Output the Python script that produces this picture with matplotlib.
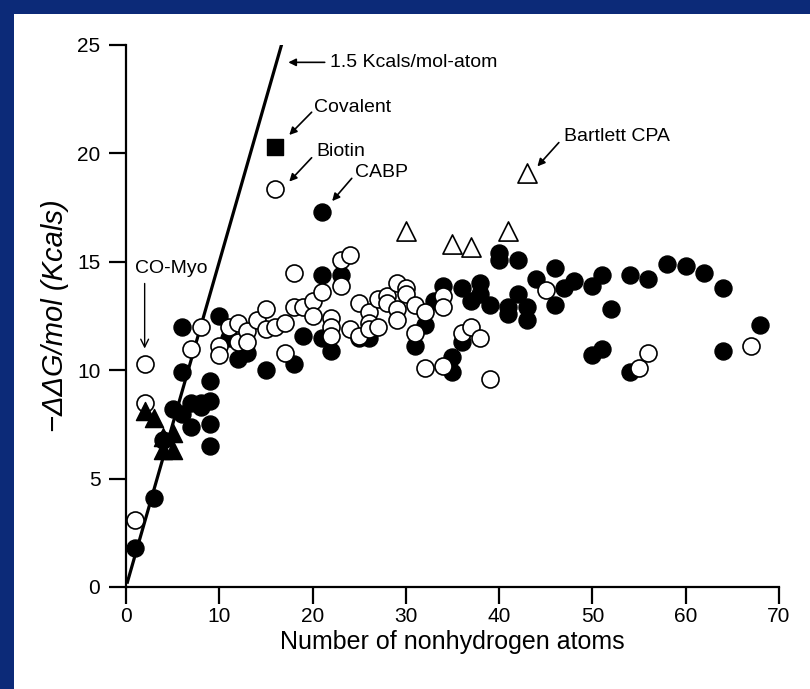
import matplotlib
matplotlib.use("Agg")
import matplotlib.pyplot as plt
from matplotlib.patches import Rectangle

plt.rcParams['font.family'] = ['Liberation Sans', 'DejaVu Sans']

# filled circles
solid_x = [1, 3, 4, 5, 6, 7, 8, 8, 9, 7, 9, 9, 6, 6, 9, 10, 11, 12, 13, 15,
           18, 19, 21, 21, 22, 23, 25, 26, 31, 32, 33, 34, 35, 35, 36, 36, 37,
           38, 38, 39, 40, 40, 41, 41, 42, 42, 43, 43, 44, 46, 46, 47, 48, 50,
           50, 51, 51, 52, 54, 54, 56, 58, 60, 62, 64, 64, 68]
solid_y = [1.8, 4.1, 6.8, 8.2, 8.0, 8.5, 8.5, 8.3, 8.6, 7.4, 7.5, 6.5, 9.9, 12.0, 9.5, 12.5, 11.5, 10.5, 10.8, 10.0,
           10.3, 11.6, 14.4, 11.5, 10.9, 14.4, 11.5, 11.5, 11.1, 12.1, 13.2, 13.9, 10.6, 9.9, 13.8, 11.3, 13.2,
           14.0, 13.5, 13.0, 15.4, 15.1, 12.9, 12.6, 15.1, 13.5, 12.9, 12.3, 14.2, 14.7, 13.0, 13.8, 14.1, 13.9,
           10.7, 14.4, 11.0, 12.8, 14.4, 9.9, 14.2, 14.9, 14.8, 14.5, 13.8, 10.9, 12.1]

# open circles
open_x = [1, 2, 2, 7, 8, 10, 10, 11, 12, 12, 13, 13, 14, 15, 15, 16, 17, 17, 18, 18,
          19, 20, 20, 21, 22, 22, 22, 23, 23, 24, 24, 25, 25, 26, 26, 26, 27, 27, 28, 28,
          29, 29, 29, 30, 30, 31, 31, 32, 32, 34, 34, 34, 36, 37, 38, 39, 45, 55, 56, 67]
open_y = [3.1, 10.3, 8.5, 11.0, 12.0, 11.1, 10.7, 12.0, 12.2, 11.3, 11.8, 11.3, 12.3, 12.8, 11.9, 12.0, 12.2, 10.8, 14.5, 12.9,
          12.9, 13.2, 12.5, 13.6, 12.4, 12.0, 11.6, 15.1, 13.9, 15.3, 11.9, 13.1, 11.6, 12.7, 12.2, 11.9, 13.3, 12.0, 13.4, 13.1,
          14.0, 12.8, 12.3, 13.8, 13.5, 13.0, 11.7, 12.7, 10.1, 13.4, 12.9, 10.2, 11.7, 12.0, 11.5, 9.6, 13.7, 10.1, 10.8, 11.1]

# filled triangles
tri_x = [2, 3, 4, 4, 5, 5]
tri_y = [8.1, 7.8, 6.3, 6.9, 6.3, 7.1]

# open triangles
otri_x = [30, 35, 37, 41, 43]
otri_y = [16.4, 15.8, 15.7, 16.4, 19.1]

# filled squares
sq_x = [16]
sq_y = [20.3]

# single named ligands
biotin = (16, 18.35)
cabp = (21, 17.3)

slope = 1.5
line_x = [0.15, 16.7]

fig = plt.figure(figsize=(8.1, 6.89), dpi=100, facecolor='#0c2a78')
fig.patches.append(Rectangle((14 / 810, 0), 1, 1 - 14 / 689, transform=fig.transFigure,
                             facecolor='white', edgecolor='none', zorder=-10))
ax = fig.add_axes([126 / 810, 102 / 689, 653 / 810, 542 / 689])
ax.set_facecolor('none')

ax.plot(line_x, [slope * v for v in line_x], color='black', lw=2.3, zorder=2)

ax.scatter(solid_x + [cabp[0]], solid_y + [cabp[1]], s=150, c='black', edgecolors='black',
           linewidths=1, zorder=3, clip_on=False)
ax.scatter(open_x + [biotin[0]], open_y + [biotin[1]], s=150, c='white', edgecolors='black',
           linewidths=1.2, zorder=4, clip_on=False)
ax.scatter(tri_x, tri_y, s=170, marker='^', c='black', edgecolors='black', zorder=5)
ax.scatter(otri_x, otri_y, s=190, marker='^', c='white', edgecolors='black',
           linewidths=1.2, zorder=4)
ax.scatter(sq_x, sq_y, s=120, marker='s', c='black', zorder=4)

arrow = dict(arrowstyle='-|>', color='black', lw=1.2, mutation_scale=11, shrinkA=0, shrinkB=0)
fs = 14
ax.annotate('', xy=(17.4, 24.2), xytext=(21.3, 24.2), arrowprops=arrow)
ax.text(21.9, 24.2, '1.5 Kcals/mol-atom', fontsize=fs, va='center', ha='left')
ax.annotate('', xy=(17.5, 20.85), xytext=(19.9, 21.9), arrowprops=arrow)
ax.text(20.2, 22.1, 'Covalent', fontsize=fs, va='center', ha='left')
ax.annotate('', xy=(17.5, 18.7), xytext=(19.9, 19.8), arrowprops=arrow)
ax.text(20.4, 20.1, 'Biotin', fontsize=fs, va='center', ha='left')
ax.annotate('', xy=(22.1, 17.8), xytext=(24.2, 18.85), arrowprops=arrow)
ax.text(24.6, 19.1, 'CABP', fontsize=fs, va='center', ha='left')
ax.annotate('', xy=(44.1, 19.4), xytext=(46.4, 20.5), arrowprops=arrow)
ax.text(47.0, 20.8, 'Bartlett CPA', fontsize=fs, va='center', ha='left')
ax.annotate('', xy=(2.0, 11.0), xytext=(2.0, 14.0),
            arrowprops=dict(arrowstyle='->', color='black', lw=1.0, mutation_scale=14,
                            shrinkA=0, shrinkB=0))
ax.text(4.9, 14.7, 'CO-Myo', fontsize=fs, va='center', ha='center')

ax.set_xlim(0, 70)
ax.set_ylim(0, 25)
ax.set_xticks(range(0, 71, 10))
ax.set_yticks(range(0, 26, 5))
for side in ['top', 'right']:
    ax.spines[side].set_visible(False)
ax.spines['left'].set_bounds(0, 25)
ax.spines['bottom'].set_bounds(0, 70)
for side in ['left', 'bottom']:
    ax.spines[side].set_linewidth(1.6)
ax.tick_params(direction='out', length=12.5, width=1.6, labelsize=15)
ax.tick_params(axis='x', pad=2)
ax.tick_params(axis='y', pad=6)
ax.set_xlabel('Number of nonhydrogen atoms', fontsize=18, labelpad=3)
ax.set_ylabel('\u2212\u0394\u0394G/mol (Kcals)', fontsize=21, style='italic', labelpad=6)

fig.savefig('out.png', dpi=100, facecolor=fig.get_facecolor())
